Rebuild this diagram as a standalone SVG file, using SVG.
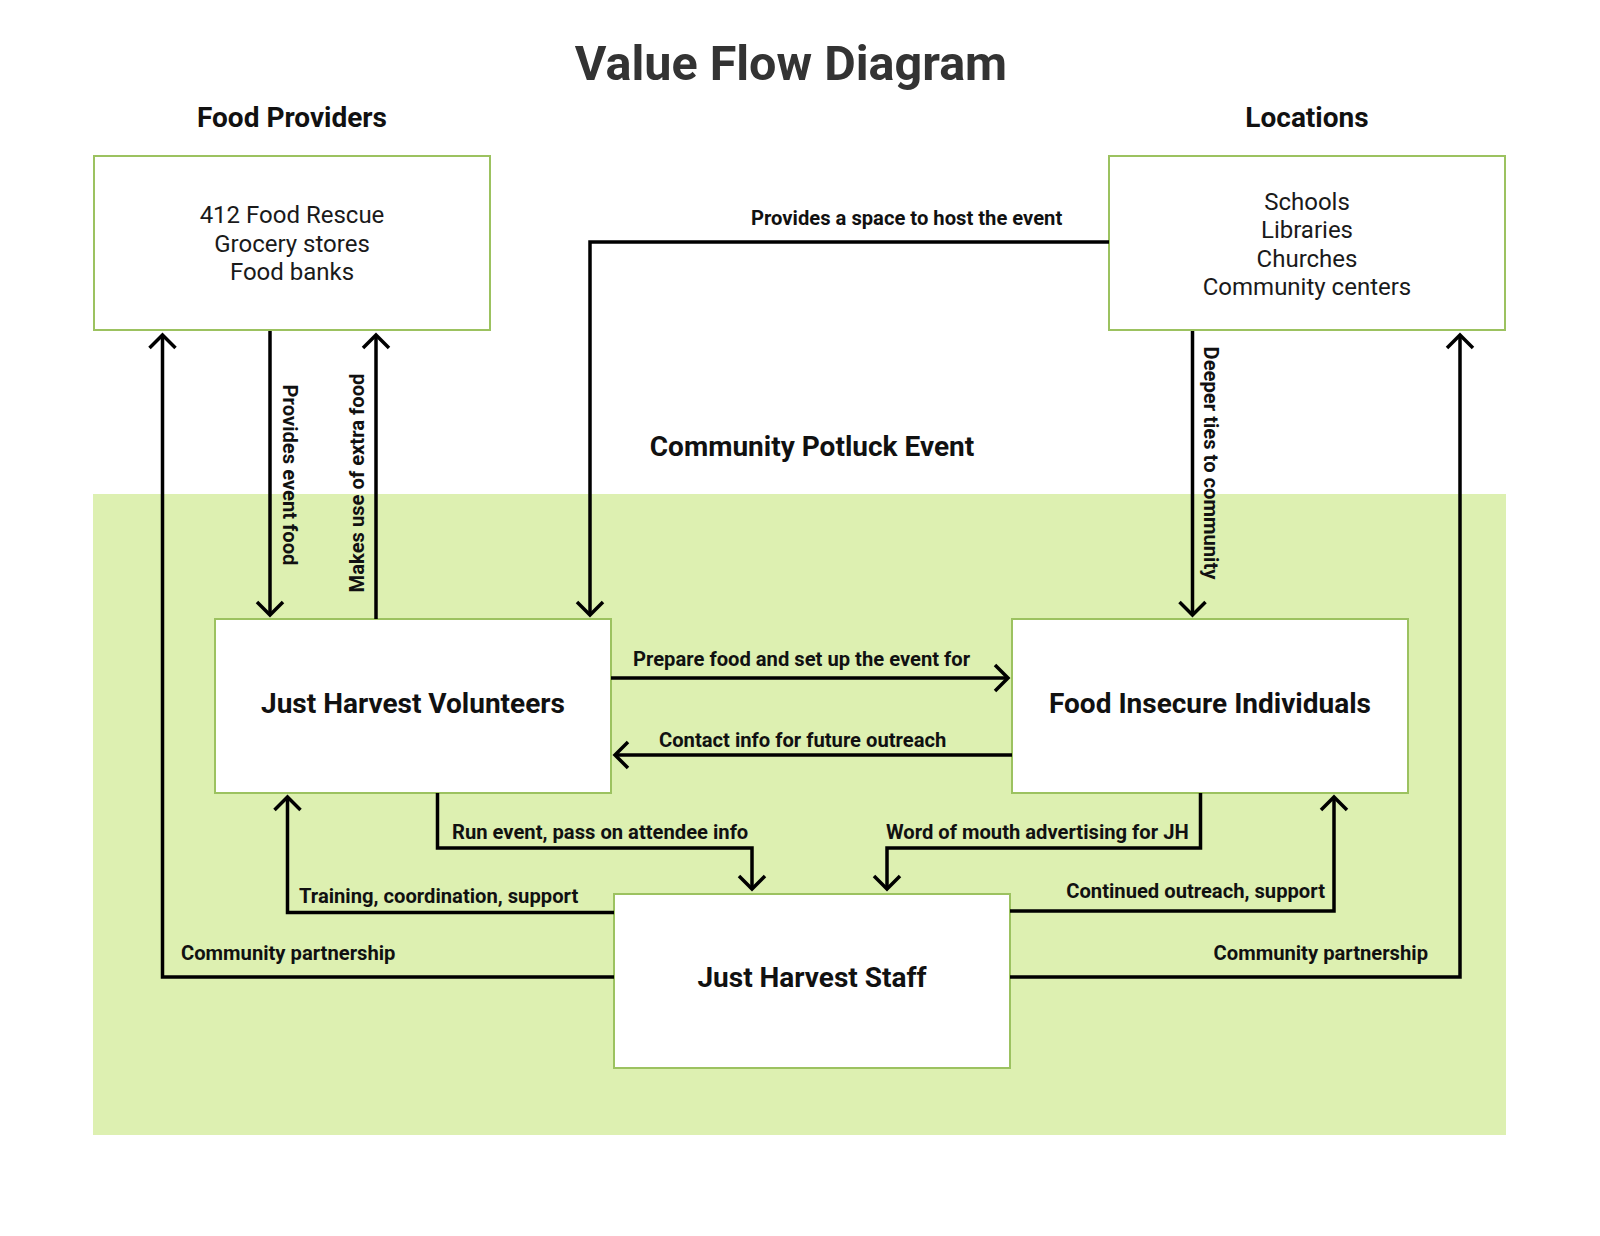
<svg xmlns="http://www.w3.org/2000/svg" width="1600" height="1236" viewBox="0 0 1600 1236">
  <defs>
    <style>
      text { font-family: Roboto, "Liberation Sans", sans-serif; fill: #111; }
      .title { font-size: 48.5px; font-weight: 700; fill: #333; text-anchor: middle; }
      .hdr { font-size: 28px; font-weight: 700; text-anchor: middle; }
      .box { fill: #ffffff; stroke: #9cc260; stroke-width: 2; }
      .reg { font-size: 24px; font-weight: 400; text-anchor: middle; fill: #1a1a1a; }
      .nlabel { font-size: 28px; font-weight: 700; text-anchor: middle; }
      .lbl { font-size: 20.2px; font-weight: 700; }
      .mid { text-anchor: middle; }
      .end { text-anchor: end; }
      .conn { fill: none; stroke: #000; stroke-width: 3.5; marker-end: url(#arrow); }
    </style>
    <marker id="arrow" markerUnits="userSpaceOnUse" viewBox="-20 -20 26 40" markerWidth="26" markerHeight="40" refX="0" refY="0" orient="auto">
      <path d="M-13,-13 L0,0 L-13,13" fill="none" stroke="#000" stroke-width="3.5" stroke-linecap="butt" stroke-linejoin="miter"/>
    </marker>
  </defs>

  <rect x="0" y="0" width="1600" height="1236" fill="#ffffff"/>

  <!-- Event region -->
  <g id="region-potluck">
    <rect x="93" y="494" width="1413" height="641" fill="#ddf0b1"/>
    <text class="hdr" x="812" y="456">Community Potluck Event</text>
  </g>

  <text class="title" x="791" y="80">Value Flow Diagram</text>

  <g id="node-food-providers">
    <text class="hdr" x="292" y="127">Food Providers</text>
    <rect class="box" x="94" y="156" width="396" height="174"/>
    <text class="reg" x="292" y="223">412 Food Rescue</text>
    <text class="reg" x="292" y="252">Grocery stores</text>
    <text class="reg" x="292" y="280">Food banks</text>
  </g>

  <g id="node-locations">
    <text class="hdr" x="1307" y="127">Locations</text>
    <rect class="box" x="1109" y="156" width="396" height="174"/>
    <text class="reg" x="1307" y="210">Schools</text>
    <text class="reg" x="1307" y="238">Libraries</text>
    <text class="reg" x="1307" y="267">Churches</text>
    <text class="reg" x="1307" y="295">Community centers</text>
  </g>

  <g id="node-volunteers">
    <rect class="box" x="215" y="619" width="396" height="174"/>
    <text class="nlabel" x="413" y="713">Just Harvest Volunteers</text>
  </g>

  <g id="node-food-insecure">
    <rect class="box" x="1012" y="619" width="396" height="174"/>
    <text class="nlabel" x="1210" y="713">Food Insecure Individuals</text>
  </g>

  <g id="node-staff">
    <rect class="box" x="614" y="894" width="396" height="174"/>
    <text class="nlabel" x="812" y="987">Just Harvest Staff</text>
  </g>

  <g id="connectors">
    <path class="conn" d="M270,331 V615"/>
    <path class="conn" d="M376,619 V335"/>
    <path class="conn" d="M1109,242 H590 V615"/>
    <path class="conn" d="M1192.5,331 V615"/>
    <path class="conn" d="M1010,977 H1460 V335"/>
    <path class="conn" d="M614,977 H162.5 V335"/>
    <path class="conn" d="M614,912.5 H287.5 V797"/>
    <path class="conn" d="M437.5,793 V848 H752 V889"/>
    <path class="conn" d="M1200.5,793 V848 H887 V889"/>
    <path class="conn" d="M1010,911 H1334 V797"/>
    <path class="conn" d="M611,678 H1008"/>
    <path class="conn" d="M1012,755 H615"/>

    <text class="lbl mid" transform="translate(283,475) rotate(90)">Provides event food</text>
    <text class="lbl mid" transform="translate(363.5,483) rotate(-90)">Makes use of extra food</text>
    <text class="lbl mid" transform="translate(1204,463) rotate(90)">Deeper ties to community</text>
    <text class="lbl" x="751" y="225">Provides a space to host the event</text>
    <text class="lbl" x="633" y="666">Prepare food and set up the event for</text>
    <text class="lbl" x="659" y="747">Contact info for future outreach</text>
    <text class="lbl" x="452" y="839">Run event, pass on attendee info</text>
    <text class="lbl" x="886" y="839">Word of mouth advertising for JH</text>
    <text class="lbl" x="299" y="903">Training, coordination, support</text>
    <text class="lbl end" x="1325" y="898">Continued outreach, support</text>
    <text class="lbl" x="181" y="960">Community partnership</text>
    <text class="lbl end" x="1428" y="960">Community partnership</text>
  </g>
</svg>
